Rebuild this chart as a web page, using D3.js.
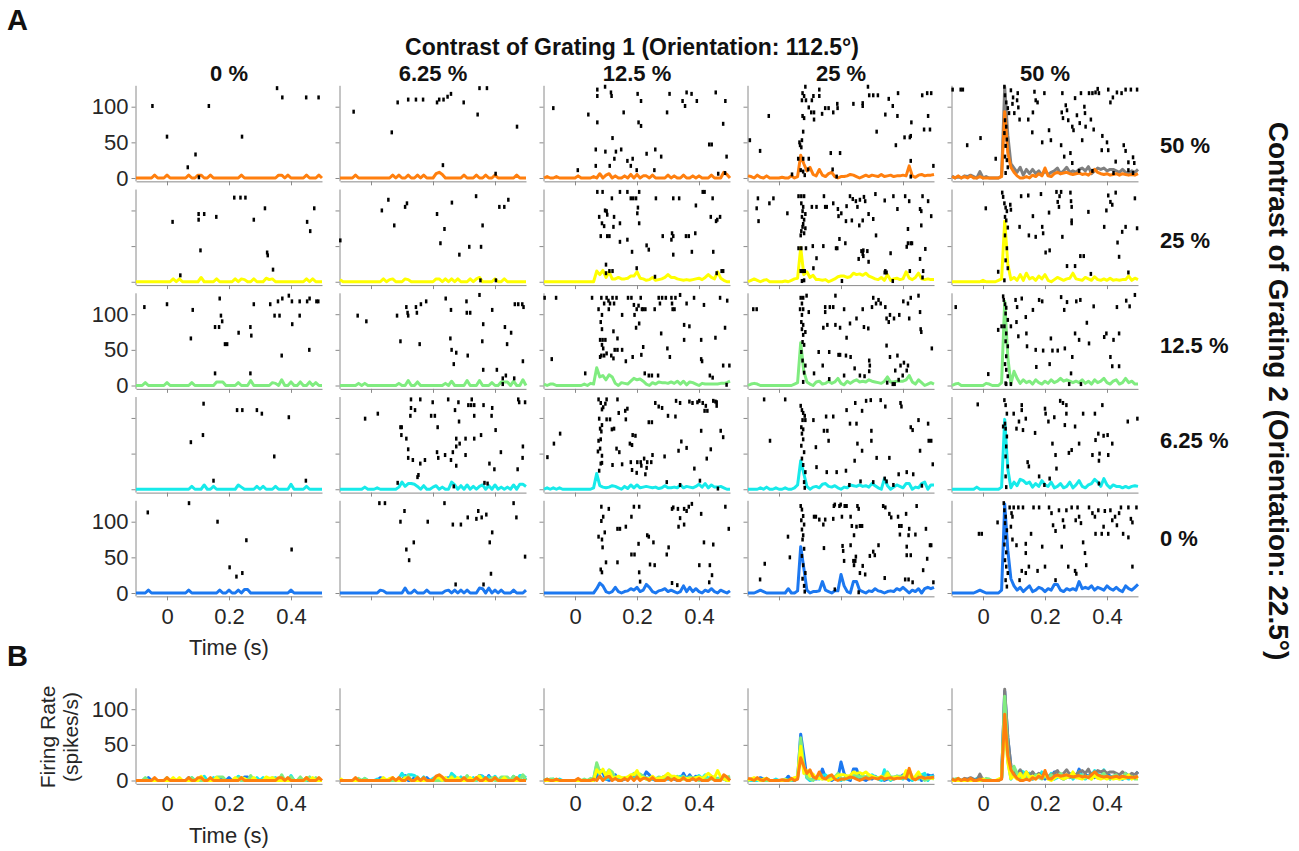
<!DOCTYPE html>
<html>
<head>
<meta charset="utf-8">
<script src="https://d3js.org/d3.v7.min.js"></script>
<style>
  body { margin: 0; background: #fff; }
  text { font-family: "Liberation Sans", Arial, Helvetica, sans-serif; }
</style>
</head>
<body>
<div id="chart"></div>
<script>
// ---- labels / ticks ----
const grating1Labels = ["0 %", "6.25 %", "12.5 %", "25 %", "50 %"];   // columns
const grating2Labels = ["50 %", "25 %", "12.5 %", "6.25 %", "0 %"];   // rows
const xTicks = [0, 0.2, 0.4];
const yTicks = [0, 50, 100];
const binStart = -0.1, binWidth = 0.01;   // PSTH bins (s)
const rowColors = ["#ff7f0e", "#ffff00", "#80ec80", "#17eaea", "#1c78f0"];
const greyColor = "#808080";

// ---- PSTH (spikes/s), 10 ms bins from -0.1 s, rows = grating 2 contrast, cols = grating 1 contrast ----
const psth00 = [0,0,0,0,0,0,4,0,0,0, 4,0,0,0,0,0,0,4,0,0, 4,4,0,0,4,0,0,0,0,0, 0,0,0,0,4,0,0,0,0,0, 0,0,0,0,0,0,4,4,0,4, 0,0,0,0,0,4,0,0,0,4, 0];
const psth01 = [0,0,0,0,0,4,0,0,0,0, 0,0,0,0,0,0,0,4,0,4, 0,0,4,0,0,4,0,4,0,0, 0,6,8,5,0,0,0,0,0,0, 4,0,0,0,4,0,0,4,0,0, 4,0,0,0,0,0,0,4,0,0, 0];
const psth02 = [0,2,0,0,2,0,0,0,0,0, 0,3,0,0,0,0,2,0,6,0, 4,6,0,3,0,0,3,0,5,0, 5,0,3,3,0,4,0,0,0,0, 4,0,3,0,0,4,0,0,3,0, 3,0,0,0,4,0,0,0,8,5, 0];
const psth03 = [3,2,0,4,1,0,3,0,0,0, 0,1,0,0,3,0,2,32,20,10, 15,5,3,12,4,2,6,8,2,0, 2,2,3,5,4,2,0,2,4,2, 4,3,2,5,2,3,4,2,3,3, 4,3,17,3,1,4,5,3,4,4, 5];
const psth04 = [2,0,3,0,2,0,3,0,0,2, 0,0,0,0,0,0,2,93,35,15, 8,3,0,0,2,0,4,2,6,3, 14,3,2,6,8,6,7,8,6,5, 6,7,5,6,4,8,12,8,6,5, 6,4,5,6,4,6,5,4,5,4, 6];
const grey04 = [3,0,2,0,3,2,4,2,0,9, 0,2,0,0,0,0,3,128,60,20, 14,8,15,4,12,6,12,6,10,4, 10,5,8,10,14,6,10,15,8,10, 8,12,14,10,16,6,10,14,12,14, 10,12,12,10,8,12,8,6,10,8, 12];

const psth10 = [0,0,0,0,0,0,0,0,0,0, 0,0,4,0,4,0,0,0,0,0, 0,6,0,0,0,0,4,0,0,0, 0,0,4,0,4,3,0,0,4,0, 0,0,5,3,4,0,0,0,0,0, 0,0,0,0,0,4,0,4,0,0, 0];
const psth11 = [3,0,0,0,0,0,0,0,0,0, 0,0,0,0,4,0,3,4,0,0, 0,4,3,0,0,0,0,0,0,0, 0,4,4,0,4,0,4,0,4,0, 0,0,4,0,4,6,0,0,0,0, 4,0,0,4,0,0,0,0,0,0, 0];
const psth12 = [0,0,0,0,0,0,0,0,0,0, 0,0,0,0,0,0,0,15,10,16, 6,14,4,4,6,4,4,5,8,8, 14,5,4,2,3,6,2,3,4,6, 10,6,6,4,3,2,3,2,3,4, 5,3,6,10,6,4,14,5,2,0, 0];
const psth13 = [0,2,4,2,0,2,3,0,0,0, 0,0,1,0,2,4,5,48,10,14, 6,9,3,3,2,3,0,2,4,7, 8,8,6,7,12,10,11,9,12,8, 6,4,3,6,2,10,2,4,5,3, 4,14,5,3,6,12,4,3,4,3, 3];
const psth14 = [0,0,0,0,0,0,0,0,0,0, 2,0,0,0,0,2,4,85,25,3, 6,2,10,2,12,4,6,2,8,4, 10,2,0,3,6,4,2,4,5,12, 4,3,2,6,4,2,7,3,2,4, 2,5,2,3,2,3,3,8,2,5, 3];

const psth20 = [0,0,0,4,0,0,0,0,0,0, 4,0,0,0,0,0,0,0,4,0, 0,0,0,0,0,0,5,5,5,0, 0,0,0,4,0,0,0,7,0,0, 0,0,0,0,4,3,0,8,0,0, 5,0,0,5,0,0,5,0,4,0, 0];
const psth21 = [0,0,0,0,0,0,3,0,3,0, 0,0,0,0,0,0,0,0,0,3, 0,0,7,0,0,5,0,0,0,0, 0,0,0,0,3,0,6,0,0,0, 0,7,0,0,0,7,0,0,0,4, 0,0,5,5,5,0,6,0,0,8, 0];
const psth22 = [2,0,2,2,0,0,0,0,0,0, 0,0,0,2,0,3,2,25,12,14, 8,15,12,3,0,4,3,2,6,10, 8,9,6,2,0,4,2,5,4,4, 3,5,3,6,2,6,1,5,4,2, 0,3,2,2,2,2,2,3,3,4, 6];
const psth23 = [0,2,3,2,0,0,0,0,0,0, 0,0,0,0,0,2,4,60,20,5, 2,0,5,6,2,3,6,3,5,10, 3,1,6,3,6,8,5,6,5,8, 6,5,4,3,6,12,5,5,6,6, 6,8,14,5,2,8,4,0,2,4, 2];
const psth24 = [0,2,3,0,0,0,0,0,0,0, 0,3,2,0,0,0,4,118,40,2, 20,10,3,8,4,6,2,8,4,2, 6,3,8,4,6,10,6,8,6,4, 6,4,8,3,6,2,8,4,6,10, 4,2,6,8,2,4,10,4,6,2, 2];

const psth30 = [0,0,0,0,0,0,0,0,0,0, 0,0,0,0,0,0,0,0,4,0, 0,0,6,0,0,4,0,0,0,0, 0,0,0,6,3,0,0,0,0,4, 0,4,0,0,0,4,0,0,0,0, 7,0,0,0,0,4,0,0,0,0, 0];
const psth31 = [0,0,0,0,0,0,0,0,3,0, 0,0,2,0,0,0,0,0,0,3, 10,4,8,8,7,4,0,5,0,0, 3,5,0,3,0,0,10,6,0,5, 0,6,0,4,0,4,6,0,5,0, 6,0,3,0,3,0,6,0,7,7, 4];
const psth32 = [0,2,0,2,0,2,0,0,0,0, 0,0,0,0,0,0,2,22,5,3, 2,3,5,4,2,0,4,1,6,2, 6,2,3,4,3,2,3,1,2,5, 2,2,3,2,6,2,4,3,2,4, 7,3,8,2,6,3,3,4,2,0, 0];
const psth33 = [0,0,0,0,2,0,3,0,0,2, 0,0,2,0,0,2,6,40,22,4, 0,3,4,2,7,8,4,3,5,2, 0,3,2,6,5,4,6,4,5,3, 8,5,2,0,15,5,0,3,6,4, 2,8,8,0,3,2,8,10,0,6, 6];
const psth34 = [0,0,0,0,0,0,0,0,3,0, 0,0,0,0,0,0,3,98,28,2, 10,5,14,12,8,10,3,8,4,12, 6,4,10,2,4,8,2,4,10,2, 6,12,4,2,6,8,14,10,4,15, 6,2,6,4,4,2,4,2,4,5, 4];

const psth40 = [0,0,0,0,4,0,0,0,0,0, 0,0,0,0,0,0,0,4,0,0, 0,0,0,0,0,0,0,4,0,0, 4,0,0,4,0,5,5,0,0,0, 0,0,0,0,0,0,0,0,0,0, 4,0,0,0,0,0,0,0,0,0, 0];
const psth41 = [0,0,0,0,0,0,0,0,0,0, 0,0,0,4,3,0,0,0,0,0, 0,7,0,0,4,0,0,0,4,0, 0,0,0,0,3,4,0,4,0,4, 0,4,0,0,0,7,6,0,7,0, 4,0,4,0,0,0,4,0,0,0, 4];
const psth42 = [0,0,0,0,0,0,0,0,0,0, 0,0,0,0,0,0,0,6,14,10, 2,0,2,8,2,0,2,3,6,4, 8,2,4,12,8,2,0,3,4,6, 2,4,2,0,2,10,2,8,2,6, 2,0,4,2,6,2,0,4,2,0, 3];
const psth43 = [0,0,0,2,4,2,0,0,0,0, 0,0,0,6,0,0,3,65,35,4, 0,2,2,3,16,4,2,0,3,3, 26,10,2,0,16,16,4,2,0,3, 2,6,3,2,0,2,3,2,6,4, 8,4,0,4,2,6,0,6,8,6, 8];
const psth44 = [0,0,0,0,0,0,0,0,2,4, 2,0,0,0,0,0,4,125,60,20, 10,4,8,2,6,10,2,4,8,6, 2,6,4,12,12,4,2,6,4,6, 4,16,6,8,6,10,4,8,6,4, 10,6,4,8,4,2,10,6,4,8, 12];

// ---- raster spikes: [time (ms), trial] ----
const spk00 = [[-47,101],[0,58],[67,15],[92,33],[103,1],[135,101],[242,58],[355,126],[372,113],[449,113],[489,113]];
const spk01 = [[-56,93],[67,64],[86,106],[120,110],[145,110],[168,110],[213,106],[220,110],[234,110],[247,114],[258,118],[299,106],[344,89],[350,126],[374,126],[471,72],[232,18],[402,6]];
const spk02 = [[-70,98],[43,89],[72,124],[72,115],[72,78],[97,128],[116,120],[118,115],[157,92],[202,118],[213,108],[205,78],[213,73],[121,56],[67,40],[98,37],[132,37],[149,40],[127,27],[169,24],[186,27],[180,17],[112,17],[67,17],[231,34],[259,40],[278,30],[199,11],[256,11],[9,11],[297,92],[305,118],[347,108],[355,101],[360,120],[376,118],[393,108],[454,120],[485,108],[478,76],[433,47],[441,47],[489,30],[484,7],[462,6]];
const spk03 = [[-94,53],[-61,38],[-33,87],[62,27],[66,50],[72,43],[68,46],[74,53],[78,65],[85,128],[76,119],[81,115],[74,109],[87,109],[76,87],[81,84],[96,99],[106,109],[111,115],[113,92],[104,92],[113,82],[130,115],[130,124],[139,90],[149,98],[160,98],[175,92],[188,104],[189,98],[240,104],[270,105],[270,101],[287,128],[291,116],[304,116],[319,116],[354,111],[367,101],[384,119],[382,87],[343,89],[315,65],[377,46],[405,57],[422,57],[427,78],[425,59],[462,116],[478,119],[491,119],[481,87],[468,68],[487,68],[498,17],[167,35],[197,35],[173,12],[78,27],[96,27],[70,11],[78,9],[94,12],[83,4],[42,5],[186,2],[425,24],[425,2]];
const spk04 = [[-98,124],[-72,124],[-65,124],[-51,46],[-8,56],[41,27],[69,128],[71,116],[75,106],[80,98],[84,91],[71,81],[75,72],[69,63],[77,54],[73,45],[71,30],[77,25],[80,15],[73,7],[90,123],[97,113],[95,104],[101,91],[112,119],[110,109],[114,99],[118,82],[146,82],[159,64],[161,92],[170,109],[176,106],[166,121],[191,50],[198,119],[213,67],[219,53],[254,92],[252,46],[258,84],[256,119],[262,30],[267,102],[271,95],[275,81],[282,35],[288,21],[288,72],[292,67],[297,112],[303,88],[316,119],[312,77],[320,53],[327,100],[329,91],[331,72],[342,119],[348,82],[353,119],[357,68],[363,120],[374,119],[370,125],[385,59],[383,39],[400,50],[404,124],[411,106],[419,113],[432,120],[447,119],[460,124],[477,124],[497,124],[454,46],[460,38],[469,22],[488,21],[484,29],[421,7],[428,23],[353,10],[310,10],[404,39],[469,11],[484,7]];

const spk10 = [[18,84],[43,9],[102,95],[102,87],[120,95],[108,44],[159,91],[217,118],[237,118],[253,118],[280,87],[316,103],[323,41],[325,37],[342,17],[452,84],[462,71],[475,103]];
const spk11 = [[-99,58],[35,100],[56,115],[75,79],[110,105],[116,110],[213,95],[224,54],[237,74],[261,111],[285,38],[317,49],[339,120],[355,49],[360,79],[414,105],[430,105],[443,115],[353,2],[403,2]];
const spk12 = [[72,126],[89,126],[119,117],[145,126],[169,126],[180,117],[188,117],[197,117],[207,126],[261,117],[317,117],[336,117],[412,126],[418,126],[444,117],[203,104],[97,100],[102,99],[104,94],[78,91],[126,91],[87,82],[94,78],[124,77],[145,82],[201,96],[207,82],[390,107],[438,91],[459,87],[468,91],[455,85],[83,64],[104,64],[111,64],[145,56],[169,59],[283,64],[313,68],[317,64],[311,59],[358,64],[367,64],[388,68],[184,42],[231,51],[238,45],[317,38],[377,42],[446,42],[100,24],[100,12],[111,15],[121,15],[199,19],[258,7],[457,12],[473,15],[478,15]];
const spk13 = [[-68,117],[-72,103],[-66,85],[-31,110],[-18,117],[27,96],[63,120],[72,120],[81,120],[72,110],[78,105],[76,99],[85,95],[74,91],[81,87],[78,81],[76,77],[85,75],[72,71],[81,68],[70,65],[106,105],[121,105],[149,105],[154,105],[145,120],[175,110],[190,102],[192,92],[201,96],[216,85],[218,106],[229,120],[238,116],[235,86],[248,113],[253,105],[259,79],[270,86],[261,115],[274,119],[278,113],[289,95],[304,88],[313,65],[311,123],[341,114],[369,120],[382,102],[407,120],[420,113],[463,120],[455,102],[459,99],[459,79],[491,92],[481,113],[416,74],[416,54],[425,54],[429,54],[412,49],[472,46],[455,32],[422,15],[360,40],[347,13],[367,1],[465,15],[463,6],[143,50],[188,47],[184,47],[214,54],[195,60],[272,44],[285,43],[266,43],[257,32],[272,36],[289,28],[270,39],[109,50],[121,33],[63,47],[72,47],[87,47],[70,15],[74,15],[78,15],[83,15],[74,1],[81,2],[111,19],[203,1],[343,15],[341,13]];
const spk14 = [[9,103],[62,125],[65,119],[69,110],[73,104],[77,99],[71,91],[75,86],[80,76],[71,65],[77,47],[73,30],[80,19],[69,2],[49,14],[88,108],[90,101],[118,77],[123,120],[146,121],[148,65],[161,92],[170,63],[187,123],[191,77],[194,68],[202,41],[215,44],[213,97],[237,126],[247,120],[241,112],[245,105],[252,126],[256,63],[282,125],[284,113],[286,105],[286,86],[286,82],[297,22],[314,36],[325,36],[340,98],[348,11],[391,77],[398,100],[404,121],[411,112],[417,108],[428,125],[434,55],[439,35],[449,70],[460,77],[469,13],[490,117],[497,75],[271,22]];

const spk20 = [[-73,110],[0,114],[83,106],[77,66],[155,17],[170,122],[174,98],[178,90],[155,82],[168,82],[187,58],[194,58],[231,74],[269,82],[272,70],[269,17],[280,114],[333,114],[347,98],[363,98],[358,118],[372,122],[370,42],[393,126],[403,118],[404,86],[428,118],[428,98],[452,118],[460,122],[459,50],[482,118],[488,118]];
const spk21 = [[-43,98],[-15,90],[84,98],[95,62],[114,110],[118,102],[120,98],[145,110],[148,102],[157,58],[161,114],[178,118],[241,122],[258,106],[256,66],[260,50],[267,30],[275,46],[308,118],[309,102],[320,102],[312,42],[350,127],[362,86],[359,62],[362,22],[391,106],[406,22],[432,82],[439,58],[452,74],[464,114],[475,114],[488,114],[492,110],[490,34],[425,10],[435,14],[462,10],[425,2]];
const spk22 = [[-98,123],[-61,123],[-75,37],[33,17],[55,123],[76,107],[85,123],[94,115],[102,123],[109,107],[113,115],[121,123],[126,115],[134,123],[108,119],[87,99],[83,89],[87,79],[81,64],[89,64],[98,64],[87,57],[91,52],[85,42],[94,42],[81,40],[102,45],[117,42],[124,38],[128,50],[124,76],[137,66],[152,99],[137,50],[152,50],[164,34],[171,123],[182,123],[192,99],[190,113],[199,107],[205,112],[197,81],[207,87],[212,123],[216,107],[220,107],[227,107],[186,40],[214,43],[220,54],[225,17],[238,14],[248,14],[268,14],[257,107],[270,123],[274,115],[281,123],[293,123],[278,73],[298,52],[306,40],[311,123],[313,115],[324,123],[315,107],[321,107],[339,127],[352,85],[369,83],[360,115],[352,64],[384,123],[416,113],[407,64],[407,37],[410,34],[435,14],[444,11],[453,67],[468,123],[484,81],[491,119],[478,28],[498,28],[489,1]];
const spk23 = [[-83,107],[-72,107],[70,123],[74,115],[78,123],[89,126],[68,107],[78,107],[96,103],[74,99],[72,89],[78,85],[74,79],[85,75],[78,71],[76,61],[81,57],[72,47],[76,35],[85,28],[81,18],[78,5],[149,110],[164,110],[175,110],[182,126],[149,103],[143,81],[156,85],[182,85],[197,81],[210,107],[218,67],[229,87],[250,94],[270,107],[274,82],[288,80],[300,110],[304,123],[313,115],[321,120],[328,115],[343,110],[347,94],[358,99],[371,94],[354,89],[388,99],[401,118],[416,115],[420,94],[425,123],[450,126],[455,103],[457,79],[459,75],[493,52],[128,47],[162,47],[192,43],[197,43],[216,42],[231,40],[244,24],[261,14],[291,35],[293,28],[347,56],[358,40],[382,42],[375,21],[392,28],[403,32],[416,28],[412,21],[386,8],[367,2],[373,2],[113,17],[141,28],[162,9],[210,14],[276,13],[291,20],[349,4],[399,14]];
const spk24 = [[-88,110],[17,16],[49,78],[65,125],[67,120],[71,114],[75,109],[73,101],[80,92],[69,83],[75,73],[73,62],[80,55],[75,41],[71,30],[75,22],[80,13],[73,3],[60,83],[90,83],[105,120],[110,110],[108,89],[114,69],[125,122],[138,96],[140,73],[142,55],[161,106],[172,26],[194,49],[181,120],[191,118],[170,50],[219,66],[215,30],[224,49],[241,49],[252,124],[262,106],[264,52],[271,117],[288,40],[297,73],[301,118],[314,120],[310,64],[284,17],[335,88],[342,59],[357,111],[391,68],[398,73],[411,40],[417,27],[421,64],[439,73],[439,27],[462,119],[473,111],[490,127],[432,110],[278,2],[316,2],[75,2],[90,2]];

const spk30 = [[77,66],[116,76],[118,120],[150,12],[226,111],[243,111],[290,111],[306,106],[346,46],[393,101],[448,12]];
const spk31 = [[-19,99],[22,106],[86,9],[95,87],[99,87],[98,76],[114,71],[120,56],[120,44],[129,114],[127,103],[142,111],[129,126],[135,41],[159,126],[159,36],[174,41],[153,20],[150,17],[199,122],[194,103],[206,103],[215,87],[213,52],[217,44],[239,48],[249,126],[258,41],[264,52],[271,111],[275,71],[275,60],[275,33],[286,64],[284,95],[282,122],[305,48],[305,71],[314,118],[325,126],[323,118],[333,118],[333,103],[333,71],[355,76],[363,118],[366,9],[382,36],[389,103],[391,114],[398,28],[402,83],[419,52],[473,28],[475,126],[478,122],[489,44],[490,60],[497,122],[267,4],[376,8]];
const spk32 = [[-48,78],[-68,64],[-89,45],[76,126],[83,121],[87,112],[91,115],[102,126],[98,120],[78,99],[87,90],[81,85],[85,81],[83,70],[76,68],[81,57],[74,53],[87,47],[83,36],[78,26],[87,37],[113,98],[119,84],[126,85],[102,98],[121,34],[137,126],[141,107],[134,57],[143,52],[152,35],[162,110],[164,98],[169,113],[177,64],[184,62],[186,76],[195,75],[180,38],[201,38],[184,27],[199,23],[212,38],[214,33],[223,43],[227,21],[231,30],[233,38],[238,94],[248,94],[246,38],[250,48],[259,121],[270,116],[281,114],[289,46],[300,103],[324,102],[326,124],[334,54],[339,121],[343,67],[360,58],[369,123],[379,121],[385,29],[395,122],[401,124],[407,82],[412,121],[418,110],[422,117],[427,110],[425,43],[438,56],[446,124],[453,123],[457,122],[457,117],[470,82],[478,73],[296,10],[339,6],[403,12],[461,1]];
const spk33 = [[-48,126],[20,126],[-29,68],[70,117],[74,111],[78,107],[83,103],[76,97],[85,97],[72,87],[78,84],[74,78],[78,70],[72,61],[81,52],[74,43],[78,34],[85,24],[81,10],[83,2],[111,97],[119,59],[121,31],[145,82],[156,82],[152,102],[175,102],[160,68],[154,24],[186,24],[216,26],[218,111],[229,92],[250,92],[246,121],[268,110],[281,124],[296,125],[298,82],[298,68],[268,54],[244,40],[253,64],[315,44],[328,125],[343,116],[356,44],[386,21],[392,121],[395,116],[425,87],[431,83],[450,97],[481,92],[483,68],[491,68],[455,54],[496,35],[412,24],[433,21],[461,5],[341,15],[347,11],[263,11],[227,6],[304,10],[369,6]];
const spk34 = [[-17,119],[69,125],[73,118],[77,106],[71,92],[73,85],[77,74],[75,60],[73,46],[80,32],[73,18],[75,3],[65,88],[99,106],[108,85],[125,118],[125,111],[116,95],[129,83],[138,99],[144,38],[148,32],[168,79],[181,18],[200,113],[202,106],[211,95],[224,64],[230,101],[234,48],[237,29],[249,124],[258,121],[269,118],[269,106],[264,90],[277,51],[286,55],[297,88],[310,64],[323,106],[353,48],[361,106],[363,69],[372,78],[376,50],[374,40],[385,118],[389,75],[402,76],[404,48],[417,64],[467,95],[498,99],[215,15],[198,6],[374,8]];

const spk40 = [[-62,113],[71,126],[163,100],[256,74],[202,36],[224,23],[243,28],[402,61]];
const spk41 = [[27,126],[45,126],[95,100],[108,115],[138,71],[114,61],[123,46],[183,100],[237,126],[264,96],[290,96],[312,106],[340,104],[346,115],[357,106],[372,110],[383,71],[391,85],[387,27],[460,126],[469,106],[497,51],[273,12],[363,12]];
const spk42 = [[85,121],[109,118],[91,107],[85,101],[96,85],[76,79],[87,75],[89,64],[100,43],[83,33],[87,29],[137,90],[145,90],[164,93],[137,43],[182,107],[190,121],[207,121],[205,69],[233,81],[238,79],[253,71],[207,29],[182,54],[192,54],[242,40],[257,39],[302,64],[296,54],[313,118],[317,120],[332,118],[334,93],[352,96],[339,105],[352,118],[360,115],[367,121],[377,125],[407,111],[416,71],[446,68],[435,39],[442,25],[485,121],[496,90],[401,39],[210,16],[313,14],[330,11],[433,15]];
const spk43 = [[-61,19],[-46,41],[29,79],[35,50],[70,122],[74,117],[78,108],[72,102],[81,96],[74,89],[78,81],[76,75],[81,62],[74,52],[78,39],[85,28],[76,20],[81,10],[83,2],[113,107],[119,107],[130,103],[143,96],[149,103],[145,63],[175,104],[177,122],[180,124],[195,122],[199,124],[212,122],[203,107],[218,122],[231,107],[235,94],[242,81],[250,93],[261,94],[268,94],[253,122],[257,118],[231,67],[205,66],[207,59],[210,45],[242,39],[240,45],[246,45],[248,51],[261,28],[270,38],[278,26],[293,52],[304,58],[309,53],[321,67],[336,122],[343,120],[356,111],[362,106],[384,107],[388,94],[390,82],[395,94],[410,111],[420,90],[418,81],[440,82],[412,65],[412,53],[425,53],[444,122],[474,90],[487,67],[491,67],[478,48],[465,32],[498,15],[341,21],[407,19],[418,19],[431,15],[180,5],[257,1]];
const spk44 = [[-13,83],[-4,83],[47,99],[67,126],[69,116],[73,107],[71,98],[77,88],[73,78],[69,68],[75,57],[71,46],[75,37],[80,28],[73,18],[77,9],[90,93],[95,75],[86,120],[99,120],[92,112],[95,107],[108,67],[114,120],[129,120],[138,69],[138,56],[155,83],[163,120],[181,120],[191,65],[200,37],[213,120],[221,112],[226,95],[234,87],[245,116],[254,65],[258,102],[262,93],[269,116],[275,37],[286,120],[299,102],[305,120],[310,107],[316,98],[323,71],[329,56],[333,39],[342,120],[353,112],[361,107],[363,83],[372,116],[383,83],[389,93],[393,115],[404,83],[411,116],[417,102],[426,107],[432,95],[439,112],[445,120],[452,83],[469,120],[477,104],[482,99],[469,78],[495,120],[482,37],[125,31],[138,28],[118,18],[148,37],[176,31],[234,18],[297,31],[301,27]];

const psthGrid = [
  [psth00, psth01, psth02, psth03, psth04],
  [psth10, psth11, psth12, psth13, psth14],
  [psth20, psth21, psth22, psth23, psth24],
  [psth30, psth31, psth32, psth33, psth34],
  [psth40, psth41, psth42, psth43, psth44]
];
const spikeGrid = [
  [spk00, spk01, spk02, spk03, spk04],
  [spk10, spk11, spk12, spk13, spk14],
  [spk20, spk21, spk22, spk23, spk24],
  [spk30, spk31, spk32, spk33, spk34],
  [spk40, spk41, spk42, spk43, spk44]
];
// grey trace is only shown for the 50 % / 50 % condition
const greyByCol = [null, null, null, null, grey04];

// ---- layout ----
const svg = d3.select("#chart").append("svg").attr("width", 1299).attr("height", 851);
const panelW = 186, left0 = 136, colStep = 204;
const rowZero = [178, 281.75, 385.5, 489.25, 593];
const rowBZero = 780.5;
const pxPerUnit = 0.713;
const axisColor = "#8a8a8a", labelColor = "#262626", titleColor = "#111";
const lw = 3;

function xScale(c) {
  const l = left0 + c * colStep;
  return d3.scaleLinear().domain([-0.1, 0.5]).range([l, l + panelW]);
}
function yScale(zero) {
  return d3.scaleLinear().domain([-4, 130]).range([zero + 4 * pxPerUnit, zero - 130 * pxPerUnit]);
}

function drawAxes(c, zero, showY, showX, showXTitle) {
  const x = xScale(c), y = yScale(zero);
  const gy = svg.append("g").attr("transform", `translate(${x.range()[0] - 0.5},0)`)
    .call(d3.axisLeft(y).tickValues(yTicks).tickSize(4).tickSizeOuter(0).tickFormat(showY ? d3.format("d") : ""));
  const gx = svg.append("g").attr("transform", `translate(0,${y(-4) + 0.5})`)
    .call(d3.axisBottom(x).tickValues(xTicks).tickSize(4).tickSizeOuter(0).tickFormat(showX ? d => (d === 0 ? "0" : d3.format(".1f")(d)) : ""));
  [gy, gx].forEach(g => {
    g.select(".domain").attr("stroke", axisColor).attr("stroke-width", 1);
    g.selectAll(".tick line").attr("stroke", axisColor);
    g.selectAll(".tick text").attr("fill", labelColor).style("font-size", "22px")
      .style("font-family", '"Liberation Sans", Arial, sans-serif');
  });
  gy.selectAll(".tick text").attr("x", -7);
  gx.selectAll(".tick text").attr("y", 12).attr("dy", "0.71em");
  if (showXTitle) {
    svg.append("text").attr("x", x(0.2)).attr("y", zero + 62)
      .attr("text-anchor", "middle").attr("fill", labelColor).style("font-size", "22px")
      .text("Time (s)");
  }
  return { x, y };
}

const line = (x, y) => d3.line().x((d, i) => x(binStart + i * binWidth)).y(d => y(d));
function trace(data, x, y, color) {
  svg.append("path").datum(data).attr("d", line(x, y))
    .attr("fill", "none").attr("stroke", color).attr("stroke-width", lw).attr("stroke-linejoin", "round");
}

// ---- panel A: raster + PSTH for every condition ----
grating2Labels.forEach((rl, r) => {
  grating1Labels.forEach((cl, c) => {
    const { x, y } = drawAxes(c, rowZero[r], c === 0 && r % 2 === 0, r === 4 && c % 2 === 0, r === 4 && c === 0);
    if (r === 0 && greyByCol[c]) trace(greyByCol[c], x, y, greyColor);
    trace(psthGrid[r][c], x, y, rowColors[r]);
    svg.append("g").selectAll("rect").data(spikeGrid[r][c]).join("rect")
      .attr("x", d => x(d[0] / 1000) - 1.25).attr("y", d => y(d[1]) - 2)
      .attr("width", 2.5).attr("height", 4).attr("fill", "#000");
  });
});

// ---- panel B: all PSTHs of a column overlaid ----
grating1Labels.forEach((cl, c) => {
  const { x, y } = drawAxes(c, rowBZero, c === 0, c % 2 === 0, c === 0);
  trace(psthGrid[4][c], x, y, rowColors[4]);
  trace(psthGrid[3][c], x, y, rowColors[3]);
  if (greyByCol[c]) trace(greyByCol[c], x, y, greyColor);
  [2, 1, 0].forEach(r => trace(psthGrid[r][c], x, y, rowColors[r]));
});

// ---- titles and labels ----
svg.append("text").attr("x", 7).attr("y", 30).style("font-size", "29px").style("font-weight", "bold").attr("fill", titleColor).text("A");
svg.append("text").attr("x", 7).attr("y", 666).style("font-size", "29px").style("font-weight", "bold").attr("fill", titleColor).text("B");

svg.append("text").attr("x", 632).attr("y", 55).attr("text-anchor", "middle")
  .style("font-size", "23px").style("font-weight", "bold").attr("fill", titleColor)
  .text("Contrast of Grating 1 (Orientation: 112.5°)");

grating1Labels.forEach((t, c) => {
  svg.append("text").attr("x", left0 + c * colStep + panelW / 2).attr("y", 81)
    .attr("text-anchor", "middle").style("font-size", "22px").style("font-weight", "bold").attr("fill", titleColor)
    .text(t);
});

const rowLabelY = [153, 248, 353, 448, 546];
grating2Labels.forEach((t, r) => {
  svg.append("text").attr("x", 1160).attr("y", rowLabelY[r])
    .style("font-size", "22px").style("font-weight", "bold").attr("fill", titleColor).text(t);
});

svg.append("text").attr("transform", "translate(1269,391) rotate(90)").attr("text-anchor", "middle")
  .style("font-size", "28px").style("font-weight", "bold").attr("fill", titleColor)
  .text("Contrast of Grating 2 (Orientation: 22.5°)");

svg.append("text").attr("transform", "translate(55,737) rotate(-90)").attr("text-anchor", "middle")
  .style("font-size", "21px").attr("fill", labelColor).text("Firing Rate");
svg.append("text").attr("transform", "translate(78,737) rotate(-90)").attr("text-anchor", "middle")
  .style("font-size", "21px").attr("fill", labelColor).text("(spikes/s)");
</script>
</body>
</html>
